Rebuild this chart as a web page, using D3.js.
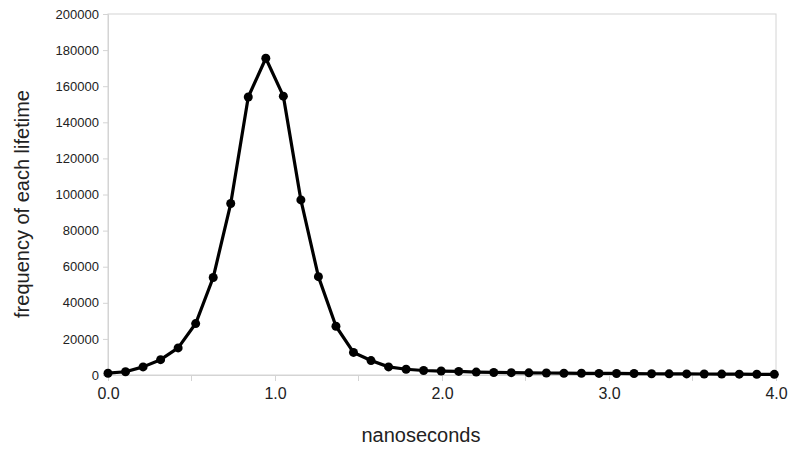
<!DOCTYPE html>
<html>
<head>
<meta charset="utf-8">
<script src="https://cdn.jsdelivr.net/npm/d3@7"></script>
<style>
  body { margin: 0; background: #fff; }
  text { font-family: "Liberation Sans", Arial, sans-serif; fill: #222; }
</style>
</head>
<body>
<script>
// lifetime bins (ns) and counts
var lifetimes = [0.000, 0.105, 0.210, 0.315, 0.420, 0.525, 0.630, 0.735, 0.840, 0.945,
                 1.050, 1.155, 1.260, 1.365, 1.470, 1.575, 1.680, 1.785, 1.890, 1.995,
                 2.100, 2.205, 2.310, 2.415, 2.520, 2.625, 2.730, 2.835, 2.940, 3.045,
                 3.150, 3.255, 3.360, 3.465, 3.570, 3.675, 3.780, 3.885, 3.990];
var counts = [1000, 1800, 4500, 8500, 15000, 28500, 54000, 95000, 154000, 175500,
              154500, 97000, 54500, 27000, 12500, 8000, 4500, 3200, 2500, 2200,
              2000, 1600, 1400, 1300, 1200, 1100, 1000, 950, 900, 850,
              800, 700, 650, 600, 550, 500, 450, 400, 350];
var xTicks = [0, 1, 2, 3, 4];
var xMinorTicks = [0.5, 1.5, 2.5, 3.5];
var yTicks = [0, 20000, 40000, 60000, 80000, 100000, 120000, 140000, 160000, 180000, 200000];

var width = 791, height = 449;
var margin = {top: 14, right: 15, bottom: 74, left: 108};

var svg = d3.select("body").append("svg")
    .attr("width", width)
    .attr("height", height);

var x = d3.scaleLinear()
    .domain([0, 4])
    .range([margin.left, width - margin.right]);

var y = d3.scaleLinear()
    .domain([0, 200000])
    .range([height - margin.bottom, margin.top]);

var grey = "#d4d4d4";

// frame on top / right
svg.append("rect")
    .attr("x", x(0))
    .attr("y", y(200000))
    .attr("width", x(4) - x(0))
    .attr("height", y(0) - y(200000))
    .attr("fill", "none")
    .attr("stroke", grey)
    .attr("stroke-width", 1);

// y axis
var yAxis = d3.axisLeft(y)
    .tickValues(yTicks)
    .tickSize(5)
    .tickPadding(4)
    .tickFormat(d3.format("d"));

var gy = svg.append("g")
    .attr("transform", "translate(" + x(0) + ",0)")
    .call(yAxis);
gy.select(".domain").attr("stroke", grey);
gy.selectAll(".tick line").attr("stroke", grey);
gy.selectAll(".tick text")
    .style("font-size", "13px")
    .attr("fill", "#222");

// x axis
var xAxis = d3.axisBottom(x)
    .tickValues(xTicks)
    .tickSize(6)
    .tickPadding(7)
    .tickFormat(d3.format(".1f"));

var gx = svg.append("g")
    .attr("transform", "translate(0," + y(0) + ")")
    .call(xAxis);
gx.select(".domain").attr("stroke", grey);
gx.selectAll(".tick line").attr("stroke", grey);
gx.selectAll(".tick text")
    .style("font-size", "16px")
    .attr("fill", "#222");

// minor ticks at the half nanoseconds
gx.selectAll(".minor")
    .data(xMinorTicks)
    .enter()
    .append("line")
    .attr("class", "minor")
    .attr("x1", function (d) { return x(d); })
    .attr("x2", function (d) { return x(d); })
    .attr("y1", 0)
    .attr("y2", 6)
    .attr("stroke", grey);

var pts = lifetimes.map(function (d, i) { return [d, counts[i]]; });

var line = d3.line()
    .x(function (d) { return x(d[0]); })
    .y(function (d) { return y(d[1]); });

svg.append("path")
    .datum(pts)
    .attr("d", line)
    .attr("fill", "none")
    .attr("stroke", "#000")
    .attr("stroke-width", 3.2)
    .attr("stroke-linejoin", "round");

svg.selectAll(".dot")
    .data(pts)
    .enter()
    .append("circle")
    .attr("class", "dot")
    .attr("cx", function (d) { return x(d[0]); })
    .attr("cy", function (d) { return y(d[1]); })
    .attr("r", 4.5)
    .attr("fill", "#000");

// axis titles
svg.append("text")
    .attr("x", 421)
    .attr("y", 442)
    .attr("text-anchor", "middle")
    .style("font-size", "20px")
    .text("nanoseconds");

svg.append("text")
    .attr("transform", "translate(29,204) rotate(-90)")
    .attr("text-anchor", "middle")
    .style("font-size", "20px")
    .text("frequency of each lifetime");
</script>
</body>
</html>
